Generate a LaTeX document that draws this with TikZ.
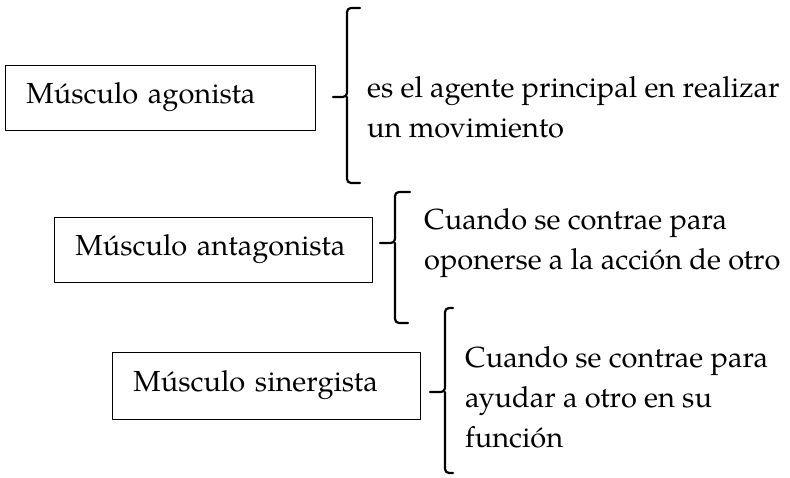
\documentclass[tikz,border=0pt]{standalone}
\usepackage{fontspec}
\setmainfont{texgyrepagella}[Extension=.otf, UprightFont=*-regular, BoldFont=*-bold, ItalicFont=*-italic]
\begin{document}
\begin{tikzpicture}[x=1pt, y=-1pt, line join=round, line cap=round,
	font=\fontsize{29}{40}\selectfont,
	caja/.style={draw, line width=0.9pt, anchor=west, inner xsep=21pt, inner ysep=0pt, align=left},
	texto/.style={anchor=west, inner sep=0pt, align=left},
	llave/.style={line width=2.2pt, rounded corners=4pt}]
	\useasboundingbox (0,0) rectangle (790,478);
	\node[caja, text width=268pt, minimum height=65pt] (agon) at (5,97.5) {Músculo agonista};
	\node[caja, text width=276pt, minimum height=65pt] (antag) at (54,249.5) {Músculo antagonista};
	\node[caja, text width=266pt, minimum height=67pt] (sinerg) at (112,385.5) {Músculo sinergista};
	\node[texto] (def1) at (367,107.5) {es el agente principal en realizar\\un movimiento};
	\node[texto] (def2) at (424,243.5) {Cuando se contrae para\\oponerse a la acción de otro};
	\node[texto] (def3) at (465,397) {Cuando se contrae para\\ayudar a otro en su\\función};
	\coordinate (b1a) at (360,8);
	\coordinate (b1p) at (333,97);
	\coordinate (b1b) at (360,183);
	\coordinate (b2a) at (410,192);
	\coordinate (b2p) at (380,243);
	\coordinate (b2b) at (408,323);
	\coordinate (b3a) at (453,308);
	\coordinate (b3p) at (430,392);
	\coordinate (b3b) at (453,473);
	\draw[llave] (b1a) -| (347,97) -- (b1p) (347,97) |- (b1b);
	\draw[llave] (b2a) -| (395,243) -- (b2p) (395,243) |- (b2b);
	\draw[llave] (b3a) -| (445,392) -- (b3p) (445,392) |- (b3b);
\end{tikzpicture}
\end{document}
